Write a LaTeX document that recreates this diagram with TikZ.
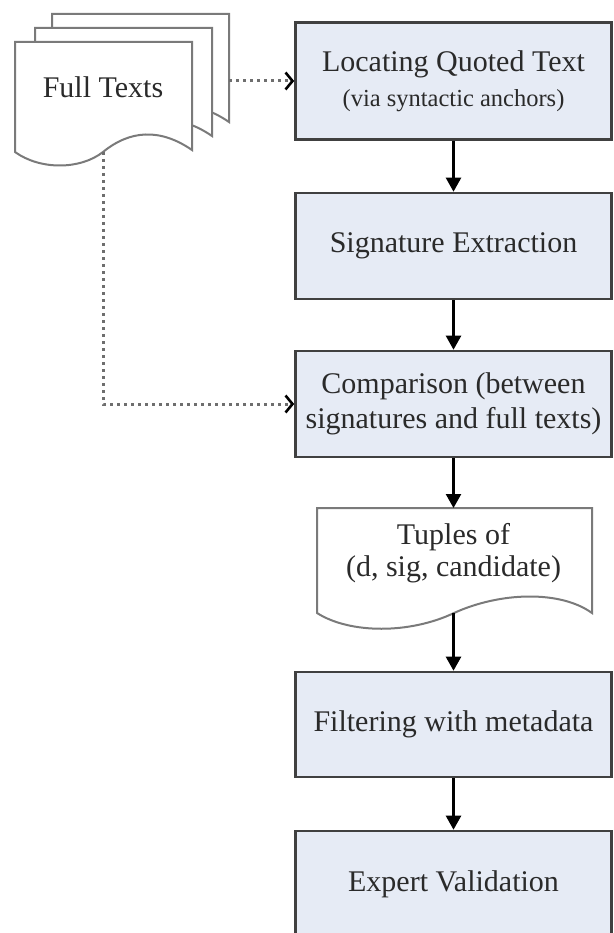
\documentclass[tikz,border=0pt]{standalone}
\usepackage{fontspec}
\setmainfont{Liberation Serif}
\usetikzlibrary{arrows.meta}
\definecolor{boxfill}{HTML}{E6EBF5}
\definecolor{boxline}{HTML}{404040}
\definecolor{docline}{HTML}{7A7A7A}
\definecolor{dotline}{HTML}{6E6E6E}
\definecolor{txt}{HTML}{2A2A2A}
\begin{document}
\begin{tikzpicture}[x=1pt,y=-1pt,
  procbox/.style={draw=boxline, fill=boxfill, line width=2.6pt, minimum width=316pt, inner sep=0pt,
    text=txt, align=center, font=\fontsize{30}{35}\selectfont},
  docpage/.style={draw=docline, fill=white, line width=2pt},
  lbl/.style={text=txt, align=center, inner sep=0pt, font=\fontsize{30}{32}\selectfont},
  flow/.style={draw=black, line width=2.4pt, -{Triangle[width=15pt,length=14pt]}},
  feed/.style={draw=dotline, line width=3pt, dash pattern=on 3pt off 4pt,
    -{Straight Barb[length=7pt,width=17pt,line width=2.6pt,color=black]}}]
\clip (0,0) rectangle (613,933);

% stacked pages (back to front)
\begin{scope}[shift={(37,-28)}]
\path[docpage] (15,42) -- (192,42) -- (192,150) .. controls (160,128) and (130,130) .. (103,152) .. controls (80,170) and (40,170) .. (15,152) -- cycle;
\end{scope}
\begin{scope}[shift={(20,-14)}]
\path[docpage] (15,42) -- (192,42) -- (192,150) .. controls (160,128) and (130,130) .. (103,152) .. controls (80,170) and (40,170) .. (15,152) -- cycle;
\end{scope}
\path[docpage] (15,42) -- (192,42) -- (192,150) .. controls (160,128) and (130,130) .. (103,152) .. controls (80,170) and (40,170) .. (15,152) -- cycle;
\node[lbl] (full) at (103,87) {Full Texts};
\coordinate (fullbot) at (103,152);
\coordinate (fullside) at (229,81);

% process boxes
\node[procbox, minimum height=116.5pt] (loc) at (453.5,81)
  {Locating Quoted Text\\ \fontsize{24.5}{28}\selectfont (via syntactic anchors)};
\node[procbox, minimum height=106pt] (sig) at (453.5,246) {Signature Extraction};
\node[procbox, minimum height=106pt] (cmp) at (453.5,404) {Comparison (between\\signatures and full texts)};

% tuples document
\path[docpage] (317,508) -- (592,508) -- (592,613) .. controls (560,590) and (500,592) .. (454,613) .. controls (410,634) and (350,634) .. (317,613) -- cycle;
\node[lbl] (tup) at (453.5,553) {Tuples of\\(d, sig, candidate)};
\coordinate (tuptop) at (453.5,508);
\coordinate (tupbot) at (453.5,613);

\node[procbox, minimum height=105pt] (filt) at (453.5,724.5) {Filtering with metadata};
\node[procbox, minimum height=106pt] (exp) at (453.5,884) {Expert Validation};

% connectors
\draw[feed] (fullside) -- (loc.west);
\draw[feed] (fullbot) |- (cmp.west);
\draw[flow] (loc.south) -- (sig.north);
\draw[flow] (sig.south) -- (cmp.north);
\draw[flow] (cmp.south) -- (tuptop);
\draw[flow] (tupbot) -- (filt.north);
\draw[flow] (filt.south) -- (exp.north);
\end{tikzpicture}
\end{document}
